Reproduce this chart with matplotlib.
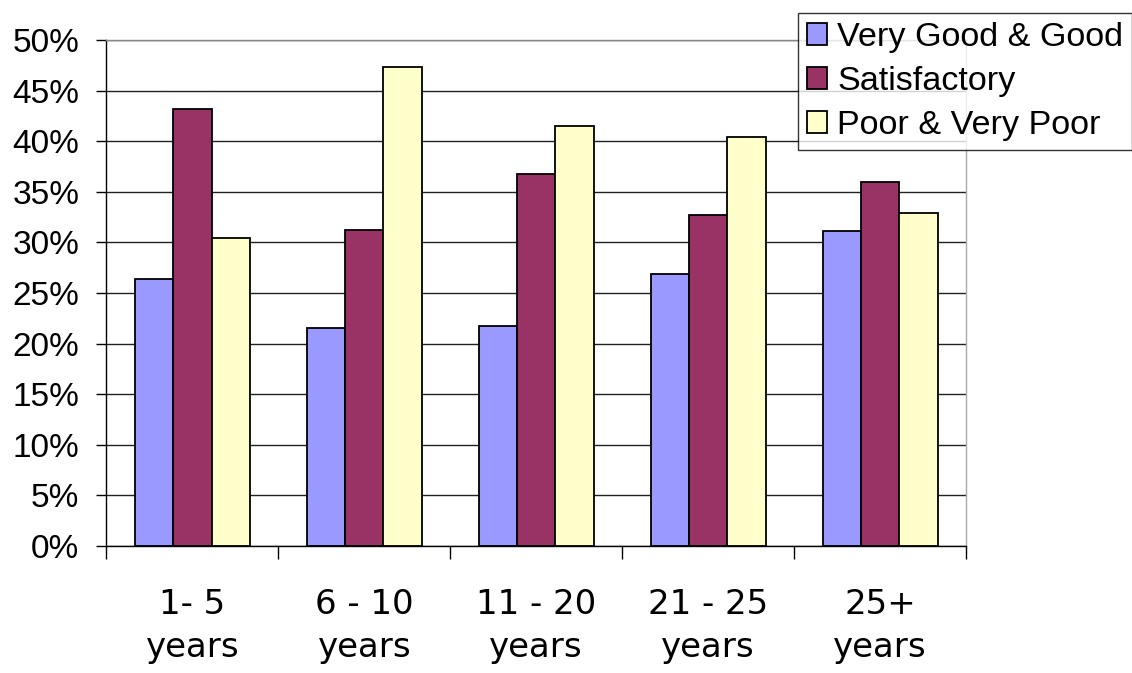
import matplotlib
matplotlib.use("Agg")

import matplotlib.pyplot as plt
import numpy as np
from matplotlib.ticker import FixedLocator, MultipleLocator, PercentFormatter


categories = ["1- 5\nyears", "6 - 10\nyears", "11 - 20\nyears", "21 - 25\nyears", "25+\nyears"]
series_names = ["Very Good & Good", "Satisfactory", "Poor & Very Poor"]
very_good_good = [26.4, 21.5, 21.7, 26.9, 31.1]
satisfactory = [43.2, 31.2, 36.8, 32.7, 36.0]
poor_very_poor = [30.4, 47.3, 41.5, 40.4, 32.9]

colors = ["#9999FF", "#993366", "#FFFFCC"]


def main():
    fig = plt.figure(figsize=(11.32, 6.73), dpi=100)
    ax = fig.add_axes([0.094, 0.1887, 0.7594, 0.7519])

    x = np.arange(len(categories))
    width = 0.223
    values = [very_good_good, satisfactory, poor_very_poor]
    for i, (name, vals, color) in enumerate(zip(series_names, values, colors)):
        ax.bar(x + (i - 1) * width, vals, width, color=color, edgecolor="black",
               linewidth=1.3, label=name, zorder=3)

    ax.set_xlim(-0.5, len(categories) - 0.5)
    ax.set_ylim(0, 50)

    # horizontal gridlines every 5%
    ax.yaxis.set_major_locator(MultipleLocator(5))
    ax.yaxis.set_major_formatter(PercentFormatter(decimals=0))
    ax.grid(axis="y", color="#222222", linewidth=1.0, zorder=0)
    ax.set_axisbelow(True)

    # category labels centred, tick marks on the boundaries
    ax.set_xticks(x)
    ax.set_xticklabels(categories, fontsize=24.5, family="DejaVu Sans", linespacing=1.4)
    ax.xaxis.set_minor_locator(FixedLocator(np.arange(-0.5, len(categories), 1.0)))
    ax.tick_params(axis="x", which="major", length=0, pad=30)
    ax.tick_params(axis="x", which="minor", length=9, width=1.0, direction="out")
    ax.tick_params(axis="y", length=7.5, width=1.0, direction="out", pad=12,
                   labelsize=24)
    for lab in ax.get_yticklabels():
        lab.set_family("Liberation Sans")

    ax.spines["left"].set_color("black")
    ax.spines["bottom"].set_color("black")
    ax.spines["top"].set_color("#888888")
    ax.spines["right"].set_color("#aaaaaa")
    for sp in ax.spines.values():
        sp.set_linewidth(1.0)
        sp.set_zorder(4)

    leg = fig.legend(loc="upper left", bbox_to_anchor=(797.7 / 1132, 1 - 13.3 / 673),
                     prop={"family": "Liberation Sans", "size": 24.6},
                     frameon=True, fancybox=False, shadow=False,
                     handlelength=0.6, handleheight=0.6, handletextpad=0.3,
                     labelspacing=0.38, borderpad=0.26, borderaxespad=0)
    leg.get_frame().set_edgecolor("black")
    leg.get_frame().set_linewidth(1.0)

    fig.savefig("out.png", dpi=100)
    plt.close(fig)


if __name__ == "__main__":
    main()
